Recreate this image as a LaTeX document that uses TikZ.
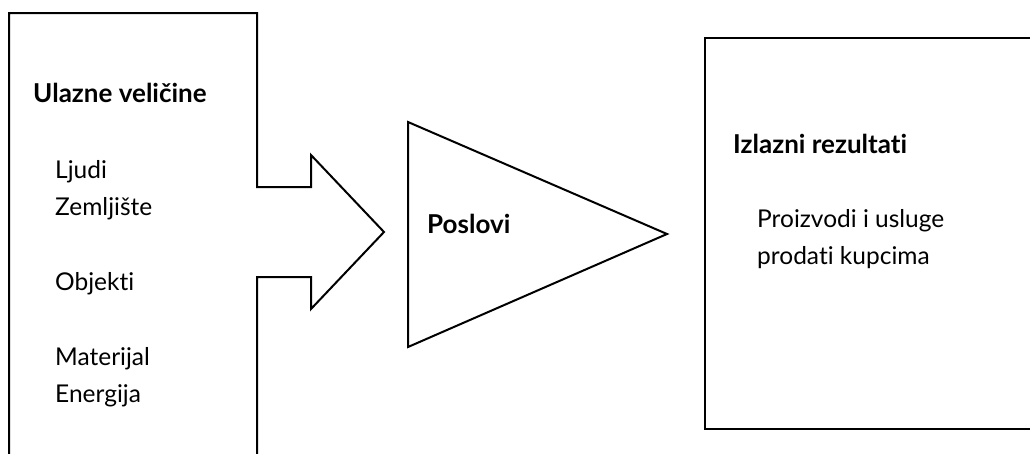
\documentclass[tikz,border=0pt]{standalone}
\usepackage{fontspec}
\setmainfont{Lato}[Ligatures=NoCommon]
\begin{document}
\begin{tikzpicture}[x=1pt,y=-1pt,
  outline/.style={draw=black,line width=2pt,line join=miter},
  head/.style={anchor=base west,inner sep=0pt,font=\fontsize{26}{30}\selectfont\bfseries},
  item/.style={anchor=base west,inner sep=0pt,font=\fontsize{24.5}{29}\selectfont}]
\useasboundingbox (0,0) rectangle (1030,453);
\clip (0,0) rectangle (1030,453);
% input box merged with the arrow, open at the bottom
\draw[outline] (9,460) -- (9,13) -- (257,13) -- (257,187) -- (311,187) -- (311,155)
  -- (384,232) -- (311,309) -- (311,277) -- (257,277) -- (257,460);
% process triangle
\draw[outline] (408,122) -- (667,234) -- (408,347) -- cycle;
% output box
\draw[outline] (1040,38) -- (705,38) -- (705,429) -- (1040,429);
% texts
\node[head] (inTitle) at (33,102) {Ulazne veličine};
\node[item] (ljudi) at (55,178) {Ljudi};
\node[item] (zemlja) at (55,215) {Zemljište};
\node[item] (objekti) at (55,290) {Objekti};
\node[item] (materijal) at (55,365) {Materijal};
\node[item] (energija) at (55,402) {Energija};
\node[head] (proc) at (427,233) {Poslovi};
\node[head] (outTitle) at (733,153) {Izlazni rezultati};
\node[item] (proizvodi) at (757,227) {Proizvodi i usluge};
\node[item] (prodati) at (757,264) {prodati kupcima};
\end{tikzpicture}
\end{document}
